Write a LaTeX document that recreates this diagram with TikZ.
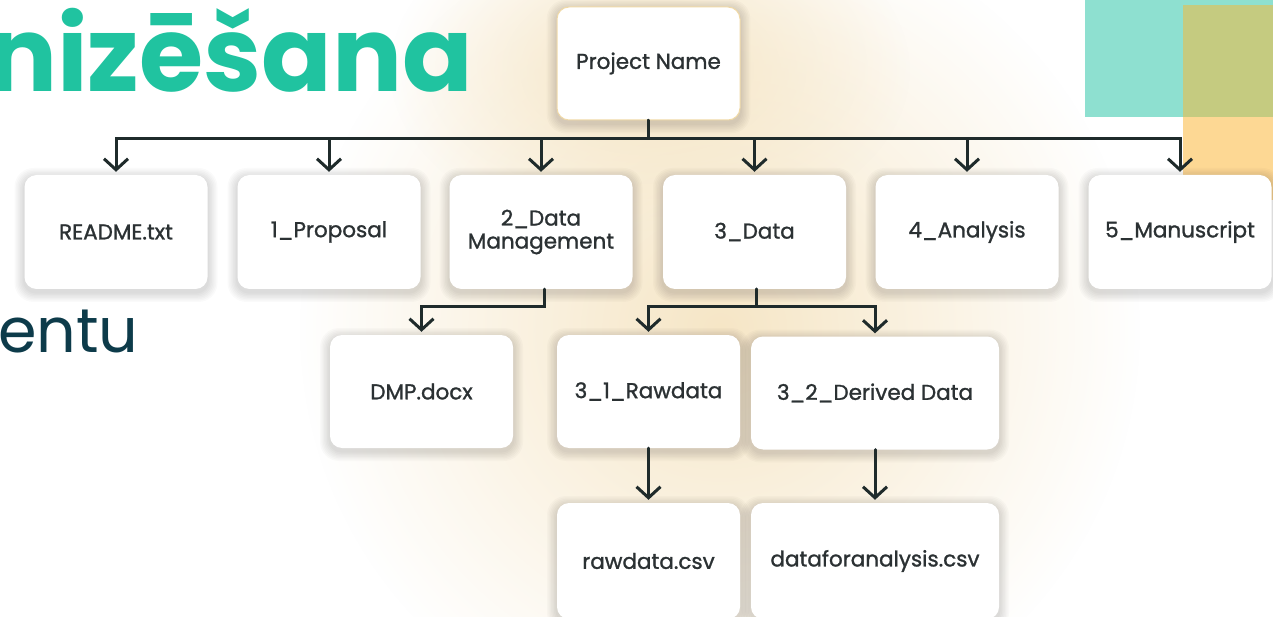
\documentclass[tikz,border=0pt]{standalone}
\usepackage{fontspec}
\setmainfont{Poppins}
\newfontfamily\titlefont{Poppins}
\newfontfamily\boxfont{Poppins}[BoldFont={Poppins},BoldFeatures={FakeBold=1.2}]
\usetikzlibrary{arrows.meta,fadings,calc}
\pgfdeclarelayer{bg}
\pgfdeclarelayer{shadow}
\pgfsetlayers{bg,shadow,main}
\definecolor{teal}{HTML}{20C3A0}
\definecolor{deepteal}{HTML}{0D3B4A}
\definecolor{lteal}{HTML}{8EE0D0}
\definecolor{olive}{HTML}{C5CB80}
\definecolor{peach}{HTML}{FDD894}
\definecolor{glow}{HTML}{F6E6C6}
\definecolor{ink}{HTML}{2B3133}
\definecolor{linecol}{HTML}{1F2B2B}
\definecolor{pnborder}{HTML}{F0D9A6}
\tikzfading[name=glowfade, inner color=transparent!0, outer color=transparent!100]
\tikzset{
  fbox/.style={fill=white, rounded corners=12pt, inner sep=0pt, text=ink,
    font=\boxfont\bfseries\fontsize{21.5}{25}\selectfont, align=center,
    minimum width=183pt, minimum height=114pt},
  arr/.style={draw=linecol, line width=3pt, line cap=round,
    -{Straight Barb[length=11pt,width=24pt,line width=3pt]}, shorten >=3pt},
  shadowlayer/.style={fill=black, opacity=0.018},
}
\newcommand{\softshadow}[1]{%
  \foreach \i in {1,...,7}{%
    \fill[shadowlayer, rounded corners={12pt+\i pt}]
      ($(#1.south west)+(-\i*1.4,-\i*1.4-3)$) rectangle ($(#1.north east)+(\i*1.4,\i*1.4-3)$);
  }}
\begin{document}
\begin{tikzpicture}[x=1pt,y=1pt]
\useasboundingbox (0,-617) rectangle (1273,0);
\clip (0,-617) rectangle (1273,0);
% nodes
\node[fbox, draw=pnborder, line width=1pt, minimum height=113pt] (pn) at (648.5,-63.5) {Project Name};
\node[fbox] (readme) at (116,-232) {README.txt};
\node[fbox] (prop) at (329,-232) {1\_Proposal};
\node[fbox] (dm) at (541,-232) {2\_Data\\[-2pt]Management};
\node[fbox] (data) at (754.5,-232) {3\_Data};
\node[fbox] (ana) at (967,-232) {4\_Analysis};
\node[fbox] (manu) at (1180,-232) {5\_Manuscript};
\node[fbox, minimum height=113pt] (dmp) at (421.5,-391.5) {DMP.docx};
\node[fbox, minimum height=113pt] (raw) at (648.5,-391.5) {3\_1\_Rawdata};
\node[fbox, minimum height=113pt, minimum width=248pt] (der) at (875,-393) {3\_2\_Derived Data};
\node[fbox, minimum height=116pt] (rawcsv) at (648.5,-561) {rawdata.csv};
\node[fbox, minimum height=116pt, minimum width=248pt] (dfa) at (875,-561) {dataforanalysis.csv};
% background, decorations, shadows
\begin{pgfonlayer}{bg}
\fill[white] (0,-617) rectangle (1273,0);
\fill[glow, path fading=glowfade] (720,-330) ellipse [x radius=420, y radius=420];
\fill[glow, path fading=glowfade] (650,-70) ellipse [x radius=260, y radius=170];
\fill[lteal] (1085,0) rectangle (1273,-117);
\fill[olive] (1183,-5) rectangle (1273,-117);
\fill[peach] (1183,-117) rectangle (1273,-200);
\node[anchor=base east, inner sep=0pt, text=teal, font=\titlefont\bfseries\fontsize{104}{110}\selectfont] (title) at (473,-92) {anizēšana};
\node[anchor=base west, inner sep=0pt, text=deepteal, font=\titlefont\fontsize{62}{66}\selectfont] (sub) at (-2,-352) {entu};
\end{pgfonlayer}
\begin{pgfonlayer}{shadow}
\foreach \n in {pn,readme,prop,dm,data,ana,manu,dmp,raw,der,rawcsv,dfa}{\softshadow{\n}}
\end{pgfonlayer}
% connectors
\foreach \n in {readme,prop,dm,data,ana,manu}
  \draw[arr] (pn.south) -- ++(0,-18) -| (\n.north);
\draw[arr] ($(dm.south)+(3,0)$) -- ++(0,-17) -| (dmp.north);
\draw[arr] ($(data.south)+(2,0)$) -- ++(0,-17) -| (raw.north);
\draw[arr] ($(data.south)+(2,0)$) -- ++(0,-17) -| (der.north);
\draw[arr] (raw.south) -- (rawcsv.north);
\draw[arr] (der.south) -- (dfa.north);
\end{tikzpicture}
\end{document}
